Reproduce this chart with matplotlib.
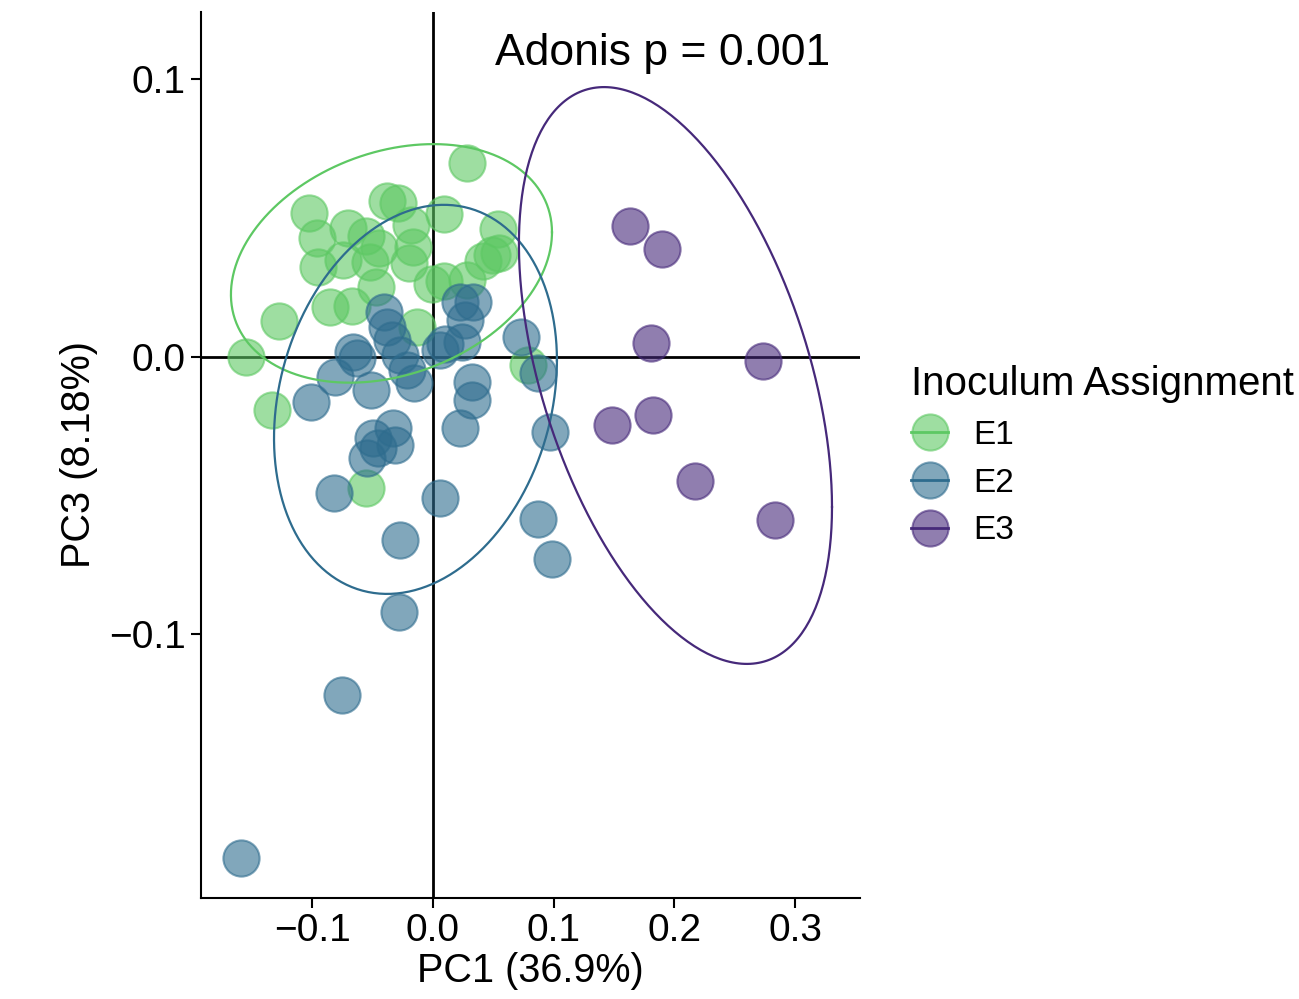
import numpy as np
import matplotlib
matplotlib.use("Agg")
import matplotlib.pyplot as plt
from matplotlib.lines import Line2D

plt.rcParams['font.family'] = ['Liberation Sans', 'DejaVu Sans']

# ---- data (PC1, PC3) ----
e1_x = [0.0284, -0.0384, -0.0292, -0.1025, 0.0091, 0.0541, -0.0702, -0.0185,
        -0.0964, -0.0558, -0.0445, -0.0168, -0.0743, -0.0955, -0.0522, -0.0199,
        0.0417, 0.0486, 0.0549, 0.0279, -0.0011, 0.0091, -0.0472, -0.0853,
        -0.0674, -0.1273, -0.0130, -0.1549, -0.1336, -0.0558, 0.0790]
e1_y = [0.0698, 0.0563, 0.0554, 0.0518, 0.0515, 0.0461, 0.0464, 0.0476,
        0.0428, 0.0434, 0.0392, 0.0397, 0.0350, 0.0325, 0.0343, 0.0340,
        0.0347, 0.0368, 0.0374, 0.0277, 0.0263, 0.0275, 0.0253, 0.0179,
        0.0185, 0.0130, 0.0108, 0.0001, -0.0191, -0.0471, -0.0029]

e2_x = [-0.0403, -0.0384, -0.0342, -0.0665, -0.0632, -0.0273, -0.0218, -0.0155,
        -0.0812, -0.0514, -0.1011, 0.0224, 0.0334, 0.0265, 0.0238, 0.0058,
        0.0099, 0.0727, 0.0872, 0.0326, 0.0326, 0.0224, 0.0969, -0.0495,
        -0.0329, -0.0315, -0.0453, -0.0549, -0.0818, 0.0058, -0.0273, -0.0279,
        0.0867, 0.0983, -0.0754, -0.1591]
e2_y = [0.0163, 0.0109, 0.0061, 0.0019, -0.0005, 0.0007, -0.0047, -0.0095,
        -0.0071, -0.0119, -0.0161, 0.0199, 0.0199, 0.0133, 0.0055, 0.0025,
        0.0047, 0.0073, -0.0059, -0.0089, -0.0157, -0.0257, -0.0269, -0.0293,
        -0.0257, -0.0317, -0.0329, -0.0365, -0.0491, -0.0509, -0.0659, -0.0918,
        -0.0584, -0.0729, -0.1218, -0.1805]

e3_x = [0.1632, 0.1897, 0.1806, 0.2734, 0.1483, 0.1823, 0.2171, 0.2833]
e3_y = [0.0472, 0.0389, 0.0050, -0.0014, -0.0245, -0.0209, -0.0447, -0.0587]

groups = ["E1", "E2", "E3"]
colors = ["#5DC863", "#2E6C8E", "#46297A"]

# 95% ellipse summaries: centre and two conjugate semi-diameters (data units)
ell_center = [(-0.0344, 0.0337), (-0.0145, -0.0153), (0.2009, -0.0067)]
ell_u = [(0.1330, 0.0112), (0.1172, 0.0140), (0.1297, -0.0474)]
ell_v = [(0.0, 0.0415), (0.0, 0.0687), (0.0, 0.0925)]

xticks = [-0.1, 0.0, 0.1, 0.2, 0.3]
yticks = [-0.1, 0.0, 0.1]
xlabel = "PC1 (36.9%)"
ylabel = "PC3 (8.18%)"
annot = "Adonis p = 0.001"
legend_title = "Inoculum Assignment"

# ---- plot ----
fig = plt.figure(figsize=(12.99, 9.99), dpi=100)
ax = fig.add_axes([201/1299, 101/999, 659/1299, 886/999])

ax.axhline(0, color="black", lw=2.0, zorder=1)
ax.axvline(0, color="black", lw=2.0, zorder=1)

xs = [e1_x, e2_x, e3_x]
ys = [e1_y, e2_y, e3_y]
for gx, gy, c in zip(xs, ys, colors):
    ax.scatter(gx, gy, s=680, facecolor=c, edgecolor=c, alpha=0.6,
               linewidths=1.5, zorder=2)

t = np.linspace(0, 2 * np.pi, 300)
for (cx, cy), (ux, uy), (vx, vy), c in zip(ell_center, ell_u, ell_v, colors):
    ex = cx + np.cos(t) * ux + np.sin(t) * vx
    ey = cy + np.cos(t) * uy + np.sin(t) * vy
    ax.plot(ex, ey, color=c, lw=1.6, zorder=3)

ax.set_xlim(-0.1922, 0.3538)
ax.set_ylim(-0.1950, 0.1243)
ax.set_xticks(xticks)
ax.set_yticks(yticks)
ax.set_xticklabels([f"{v:.1f}".replace("-", "\u2212") for v in xticks])
ax.set_yticklabels([f"{v:.1f}".replace("-", "\u2212") for v in yticks])
for s in ["top", "right"]:
    ax.spines[s].set_visible(False)
for s in ["left", "bottom"]:
    ax.spines[s].set_linewidth(1.5)
ax.tick_params(axis="both", length=7, width=1.5, labelsize=28, colors="black",
               pad=4)
ax.set_xlabel(xlabel, fontsize=28.5, labelpad=2)
ax.set_ylabel(ylabel, fontsize=28.5, labelpad=8)

ax.text(0.190, 0.1095, annot, fontsize=32, ha="center", va="center")

handles = [Line2D([0], [0], color=c, lw=2, marker="o", markersize=26,
                  markerfacecolor=matplotlib.colors.to_rgba(c, 0.6),
                  markeredgecolor=matplotlib.colors.to_rgba(c, 0.6),
                  markeredgewidth=1.5)
           for c in colors]
leg = fig.legend(handles, groups, title=legend_title, loc="upper left",
                 bbox_to_anchor=(898/1299, 1 - 352/999), frameon=False,
                 fontsize=24, title_fontsize=29, handlelength=1.1,
                 handletextpad=0.75, labelspacing=0.5, borderaxespad=0)
leg._legend_box.align = "left"

fig.savefig("out.png", dpi=100)
